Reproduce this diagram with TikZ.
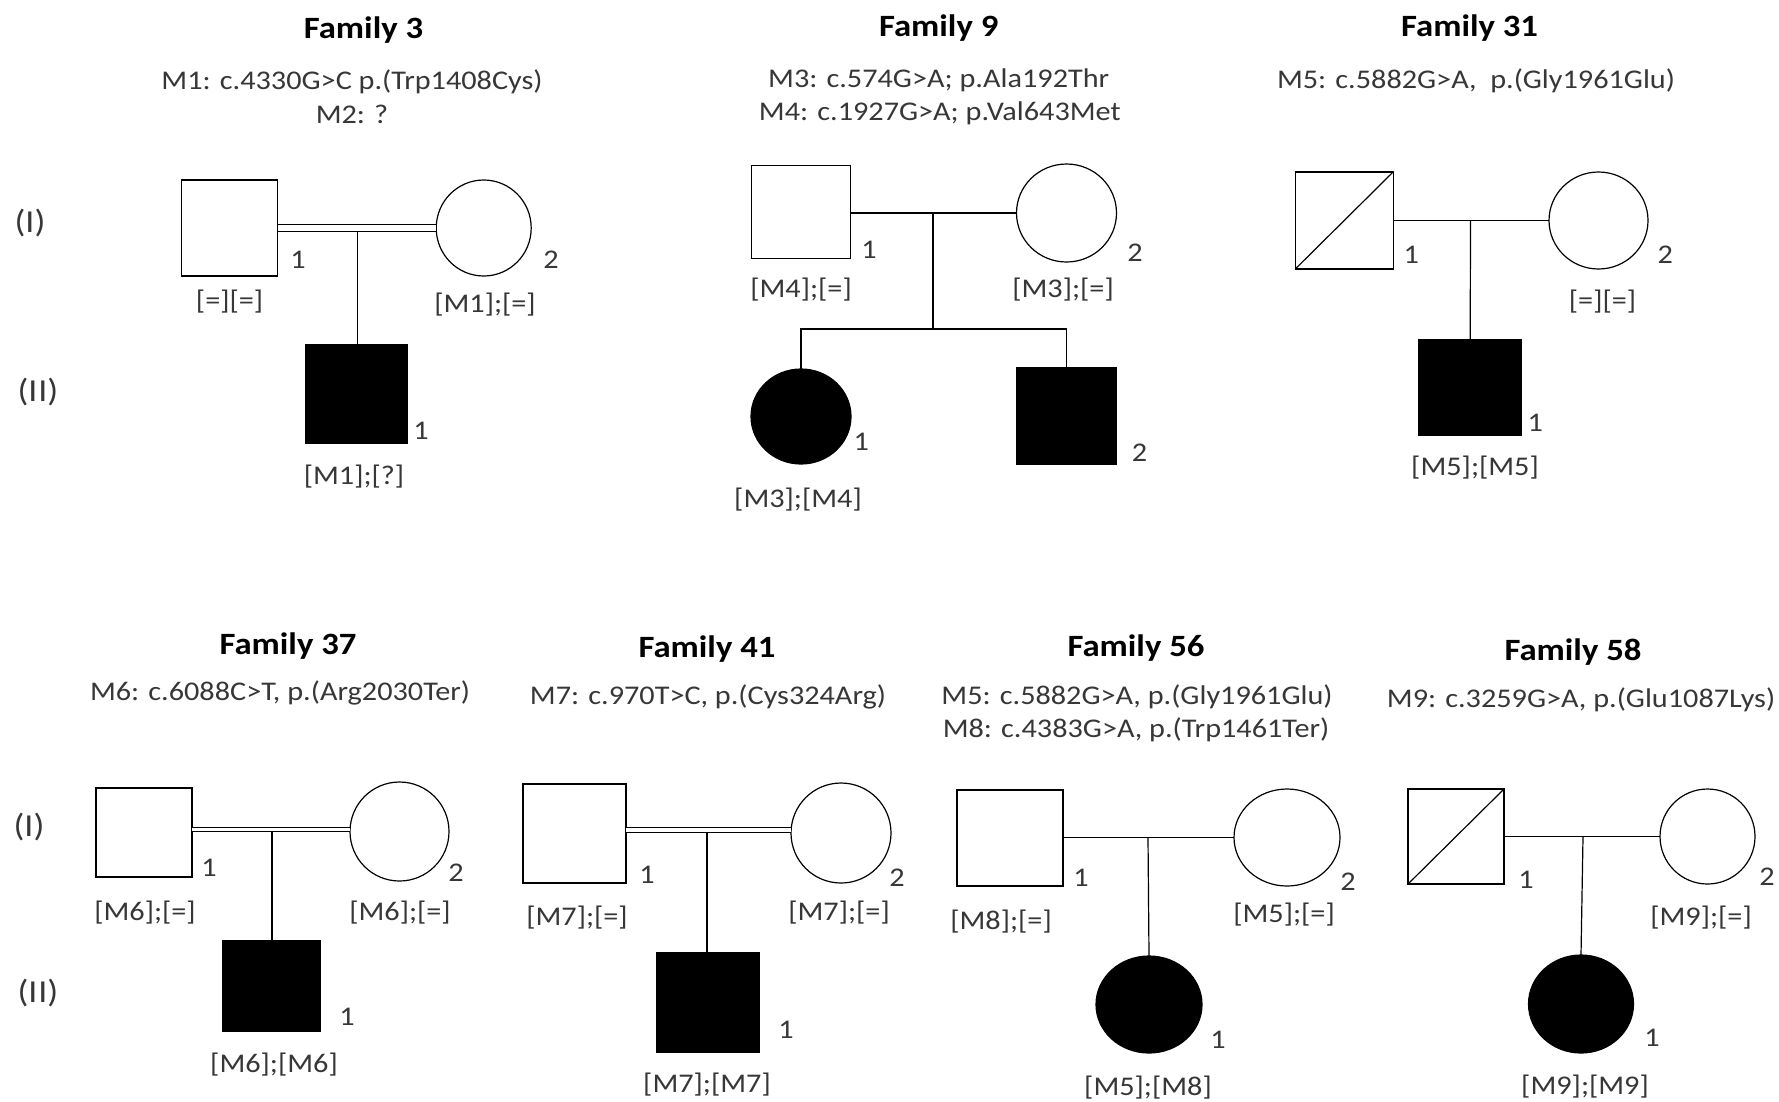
\documentclass[tikz,border=0pt]{standalone}
\usepackage{fontspec}
\setmainfont{Carlito}[FakeStretch=1.12]
\usetikzlibrary{shapes.geometric}
\definecolor{tg}{RGB}{55,55,55}
\begin{document}
\begin{tikzpicture}[x=1pt,y=-1pt,
  ind/.style={draw=black, line width=1.2pt, inner sep=0pt, outer sep=0pt, fill=white},
  msq/.style 2 args={ind, rectangle, minimum width=#1pt, minimum height=#2pt},
  fci/.style 2 args={ind, ellipse, minimum width=#1pt, minimum height=#2pt},
  aff/.style={fill=black},
  txt/.style={font=\fontsize{27}{32}\selectfont, text=tg, inner sep=0pt},
  ttl/.style={font=\fontsize{31}{37}\selectfont\bfseries, text=black, inner sep=0pt},
  gen/.style={font=\fontsize{32}{38}\selectfont, text=tg, inner sep=0pt},
  rel/.style={line width=1.2pt},
  cons/.style={line width=1.2pt, double, double distance=#1},
]
\useasboundingbox[fill=white] (0,0) rectangle (1779,1101);

% generation labels
\node[gen] (g1a) at (30,223) {(I)};
\node[gen] (g2a) at (38,392) {(I\kern1pt I)};
\node[gen] (g1b) at (29,827) {(I)};
\node[gen] (g2b) at (38,993) {(I\kern1pt I)};

% ---------------- Family 3
\node[ttl] (t3) at (363.5,30) {Family 3};
\node[txt] (t3a) at (352,82) {M1: c.4330G>C p.(Trp1408Cys)};
\node[txt] (t3b) at (352,114) {M2: ?};
\node[msq={96}{96}] (f3a) at (229.6,228) {};
\node[fci={95}{96}] (f3b) at (483.7,228) {};
\coordinate (f3v) at (357.8,231.5);
\draw[cons=5.5pt] (f3a.east) -- (f3b.west);
\node[msq={102}{98},aff] (f3c) at (356.5,394) {};
\draw[rel] (f3v) -- (f3v |- f3c.north);
\node[txt] (n3a) at (298,260) {1};
\node[txt] (n3b) at (551,260) {2};
\node[txt] (n3c) at (421,431) {1};
\node[txt] (l3a) at (229.6,302) {[=][=]};
\node[txt] (l3b) at (485,305) {[M1];[=]};
\node[txt] (l3c) at (354,477) {[M1];[?]};

% ---------------- Family 9
\node[ttl] (t9) at (938.7,28) {Family 9};
\node[txt] (t9a) at (938.7,80) {M3: c.574G>A; p.Ala192Thr};
\node[txt] (t9b) at (939.8,113) {M4: c.1927G>A; p.Val643Met};
\node[msq={99.5}{93}] (f9a) at (801,212) {};
\node[fci={100}{98}] (f9b) at (1066.5,213) {};
\coordinate (f9m) at (933,213);
\coordinate (f9s) at (933,329);
\draw[rel] (f9a.east |- f9m) -- (f9b.west);
\node[fci={100}{95},aff] (f9c) at (801,416.5) {};
\node[msq={100}{96},aff] (f9d) at (1066.5,416) {};
\draw[rel] (f9m) -- (f9s);
\draw[rel] (f9c.north) -- (f9c.north |- f9s) -| (f9d.north);
\node[txt] (n9a) at (869,250) {1};
\node[txt] (n9b) at (1135,253) {2};
\node[txt] (n9c) at (861.4,442) {1};
\node[txt] (n9d) at (1139.6,453) {2};
\node[txt] (l9a) at (801,290) {[M4];[=]};
\node[txt] (l9b) at (1063,290) {[M3];[=]};
\node[txt] (l9c) at (798,500) {[M3];[M4]};

% ---------------- Family 31
\node[ttl] (t31) at (1469.6,28) {Family 31};
\node[txt] (t31a) at (1476,81) {M5: c.5882G>A, \ p.(Gly1961Glu)};
\node[msq={97.8}{97}] (f31a) at (1344.2,220.5) {};
\draw[rel] (f31a.south west) -- (f31a.north east);
\node[fci={99}{97}] (f31b) at (1598.5,220.5) {};
\coordinate (f31m) at (1470.5,220.5);
\draw[rel] (f31a.east) -- (f31b.west);
\node[msq={102.3}{95},aff] (f31c) at (1470.2,387.5) {};
\draw[rel] (f31m) -- (f31c.north);
\node[txt] (n31a) at (1411.2,255) {1};
\node[txt] (n31b) at (1665.3,255) {2};
\node[txt] (n31c) at (1535.3,423) {1};
\node[txt] (l31b) at (1602.5,302) {[=][=]};
\node[txt] (l31c) at (1475,468) {[M5];[M5]};

% ---------------- Family 37
\node[ttl] (t37) at (288,646) {Family 37};
\node[txt] (t37a) at (280,693) {M6: c.6088C>T, p.(Arg2030Ter)};
\node[msq={96}{89}] (f37a) at (144,832.5) {};
\node[fci={99}{99}] (f37b) at (399.5,831.5) {};
\coordinate (f37m) at (272,829.5);
\coordinate (f37v) at (272,832);
\draw[cons=3.5pt] (f37a.east |- f37m) -- (f37b.west |- f37m);
\node[msq={97}{90},aff] (f37c) at (271.5,986) {};
\draw[rel] (f37v) -- (f37v |- f37c.north);
\node[txt] (n37a) at (209,868) {1};
\node[txt] (n37b) at (456,873) {2};
\node[txt] (n37c) at (347,1017) {1};
\node[txt] (l37a) at (145,913) {[M6];[=]};
\node[txt] (l37b) at (400,913) {[M6];[=]};
\node[txt] (l37c) at (274,1065) {[M6];[M6]};

% ---------------- Family 41
\node[ttl] (t41) at (707,649) {Family 41};
\node[txt] (t41a) at (708,697) {M7: c.970T>C, p.(Cys324Arg)};
\node[msq={103}{99}] (f41a) at (574.5,833.5) {};
\node[fci={100}{100}] (f41b) at (841,833) {};
\coordinate (f41m) at (707,830);
\coordinate (f41v) at (707,833);
\draw[cons=4.5pt] (f41a.east |- f41m) -- (f41b.west |- f41m);
\node[msq={102}{99},aff] (f41c) at (708,1002.5) {};
\draw[rel] (f41v) -- (f41v |- f41c.north);
\node[txt] (n41a) at (647,875) {1};
\node[txt] (n41b) at (897,878) {2};
\node[txt] (n41c) at (786,1030) {1};
\node[txt] (l41a) at (577,918) {[M7];[=]};
\node[txt] (l41b) at (839,913) {[M7];[=]};
\node[txt] (l41c) at (707,1085) {[M7];[M7]};

% ---------------- Family 56
\node[ttl] (t56) at (1136,648) {Family 56};
\node[txt] (t56a) at (1137,697) {M5: c.5882G>A, p.(Gly1961Glu)};
\node[txt] (t56b) at (1136,730) {M8: c.4383G>A, p.(Trp1461Ter)};
\node[msq={106}{96}] (f56a) at (1010,838) {};
\node[fci={106}{97}] (f56b) at (1287,837.5) {};
\coordinate (f56m) at (1148,837.5);
\draw[rel] (f56a.east |- f56m) -- (f56b.west);
\node[fci={106}{97},aff] (f56c) at (1149,1004.5) {};
\draw[rel] (f56m) -- (f56c.north);
\node[txt] (n56a) at (1081,878) {1};
\node[txt] (n56b) at (1348,882) {2};
\node[txt] (n56c) at (1218,1040) {1};
\node[txt] (l56a) at (1001,922) {[M8];[=]};
\node[txt] (l56b) at (1284,915) {[M5];[=]};
\node[txt] (l56c) at (1148,1088) {[M5];[M8]};

% ---------------- Family 58
\node[ttl] (t58) at (1573,652) {Family 58};
\node[txt] (t58a) at (1581,700) {M9: c.3259G>A, p.(Glu1087Lys)};
\node[msq={96}{95}] (f58a) at (1456,836.5) {};
\draw[rel] (f58a.south west) -- (f58a.north east);
\node[fci={95}{95}] (f58b) at (1707.5,836.5) {};
\coordinate (f58m) at (1583,836.5);
\draw[rel] (f58a.east) -- (f58b.west);
\node[fci={105}{98},aff] (f58c) at (1581,1004) {};
\draw[rel] (f58m) -- (f58c.north);
\node[txt] (n58a) at (1526,880) {1};
\node[txt] (n58b) at (1767,877) {2};
\node[txt] (n58c) at (1652,1038) {1};
\node[txt] (l58b) at (1701,918) {[M9];[=]};
\node[txt] (l58c) at (1585,1087) {[M9];[M9]};
\end{tikzpicture}
\end{document}
